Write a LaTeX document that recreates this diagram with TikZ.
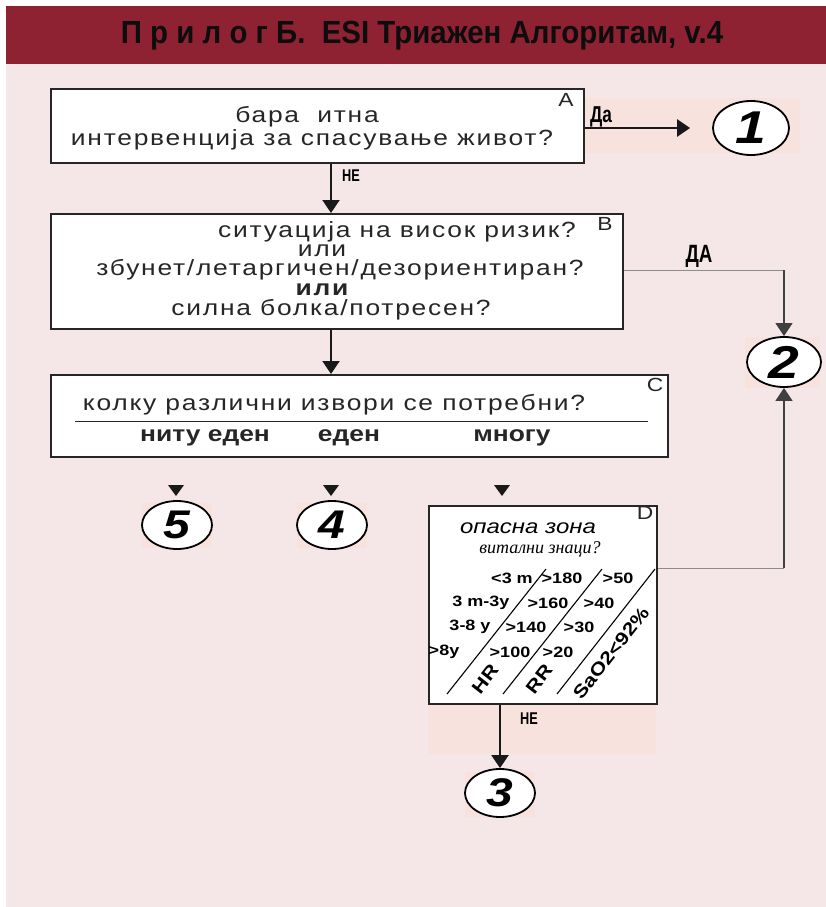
\documentclass[tikz,border=0pt]{standalone}
\usepackage{fontspec}
\setmainfont[FakeStretch=1.2]{Liberation Sans}
\newfontfamily\bodyfont[FakeStretch=1.2,LetterSpace=8]{Liberation Sans}
\newfontfamily\condfont[FakeStretch=0.75]{Liberation Sans}
\newfontfamily\titlefont[FakeStretch=0.92]{Liberation Sans}
\newfontfamily\serifit{Liberation Serif}
\usetikzlibrary{arrows.meta,shapes.geometric}
\definecolor{bg}{HTML}{F5E6E7}
\definecolor{band}{HTML}{8E2233}
\definecolor{peach}{HTML}{F8E2DE}
\tikzset{
  box/.style={draw=black!85, line width=2pt, fill=white, anchor=north west, inner sep=0pt},
  txt/.style={font=\bodyfont\fontsize{22}{22}\selectfont, text=black!85, inner sep=0pt},
  opt/.style={font=\bfseries\fontsize{22}{22}\selectfont, text=black!85, inner sep=0pt},
  lbl/.style={font=\fontsize{19}{19}\selectfont, text=black!85, inner sep=0pt},
  yn/.style={font=\condfont\bfseries\fontsize{20}{20}\selectfont, inner sep=0pt},
  circ/.style={ellipse, draw=black, line width=1.8pt, fill=white, inner sep=0pt,
               font=\bfseries\itshape\fontsize{46}{46}\selectfont},
  smallcirc/.style={circ, font=\bfseries\itshape\fontsize{40}{40}\selectfont},
  arr/.style={-{Triangle[width=17pt,length=13pt]}, line width=2pt, black!90},
  thinarr/.style={-{Triangle[width=17pt,length=13pt]}, line width=1.1pt, black!75},
  tab/.style={font=\bfseries\fontsize{15}{15}\selectfont, inner sep=0pt},
  rot/.style={font=\bfseries\fontsize{18}{18}\selectfont, inner sep=0pt, rotate=52},
  head/.style={fill=black!90},
}
\begin{document}
\begin{tikzpicture}[x=1pt,y=-1pt]
\useasboundingbox (0,0) rectangle (826,907);
\fill[white] (0,0) rectangle (826,907);
\fill[bg] (6,6) rectangle (826,907);
\fill[band] (6,6) rectangle (826,64);
\node[font=\titlefont\bfseries\fontsize{32}{32}\selectfont, text=black!95, inner sep=0pt] (title) at (422,36)
  {П р и л о г Б.\ \ ESI Триажен Алгоритам, v.4};

% peach highlight rectangles
\fill[peach] (583,98) rectangle (800,153);
\fill[peach] (745,337) rectangle (820,388);
\fill[peach] (142,503) rectangle (212,548);
\fill[peach] (297,503) rectangle (367,548);
\fill[peach] (428,703) rectangle (656,754);
\fill[peach] (465,772) rectangle (535,817);

\coordinate (ax) at (331,0);
\coordinate (dx) at (500,0);
\coordinate (rx) at (784,0);

% Box A
\node[box, minimum width=533pt, minimum height=74pt] (A) at (50,88) {};
\node[lbl] (Al) at (566,100) {А};
\node[txt] (A1) at (307,117) {бара \ итна};
\node[txt] (A2) at (312,140) {интервенција за спасување живот?};

% circle 1
\node[circ, minimum width=76pt, minimum height=54pt] (c1) at (751,128) {1};
\draw[arr, line width=2.6pt] (A.east |- c1) -- ([xshift=-22pt]c1.west);
\node[yn, font=\condfont\bfseries\fontsize{23}{23}\selectfont, anchor=south west] (da1) at (590,127) {Да};

% Box B
\node[box, minimum width=572pt, minimum height=115pt] (B) at (50,213) {};
\node[lbl] (Bl) at (605,224) {В};
\node[txt] (B1) at (397,232) {ситуација на висок ризик?};
\node[txt] (B2) at (322,251) {или};
\node[txt] (B3) at (340,270) {збунет/летаргичен/дезориентиран?};
\node[txt, font=\bodyfont\bfseries\fontsize{22}{22}\selectfont] (B4) at (322,290) {или};
\node[txt] (B5) at (331,310) {силна болка/потресен?};

\draw[arr] (A.south -| ax) -- (B.north -| ax);
\node[yn, font=\condfont\bfseries\fontsize{17}{17}\selectfont, anchor=west] (ne1) at (342,176) {НЕ};

% circle 2
\node[circ, minimum width=74pt, minimum height=50pt] (c2) at (784,362) {2};
\coordinate (bdy) at (0,270);
\draw[black!45, line width=0.8pt] (B.east |- bdy) -- (rx |- bdy);
\draw[thinarr] (rx |- bdy) -- (c2.north);
\node[yn, font=\condfont\bfseries\fontsize{25}{25}\selectfont] (da2) at (699,256) {ДА};

% Box C
\draw[arr] (B.south -| ax) -- (331,374);
\node[box, minimum width=617pt, minimum height=82pt] (C) at (50,374) {};
\node[lbl] (Cl) at (655,385) {С};
\node[txt] (C1) at (334,405) {колку различни извори се потребни?};
\draw[black!85, line width=1pt] (75,421) -- (648,421);
\node[opt] (o1) at (205,438) {ниту еден};
\node[opt] (o2) at (349,438) {еден};
\node[opt] (o3) at (512,438) {многу};

% floating arrowheads
\coordinate (h5) at (176,496);
\coordinate (h4) at (331,496);
\coordinate (h3) at (502,496);
\foreach \h in {h5,h4,h3}{
  \fill[head] (\h) ++(-8,-11) -- ++(16,0) -- ++(-8,11) -- cycle;
}

% circles 5 and 4
\node[smallcirc, minimum width=70pt, minimum height=48pt] (c5) at (177,525) {5};
\node[smallcirc, minimum width=70pt, minimum height=48pt] (c4) at (332,525) {4};

% Box D
\node[box, minimum width=228pt, minimum height=198pt] (D) at (428,505) {};
\node[lbl] (Dl) at (645,513) {D};
\node[font=\itshape\fontsize{20}{20}\selectfont, inner sep=0pt] (D1) at (528,528) {опасна зона};
\node[font=\serifit\itshape\fontsize{18}{18}\selectfont, inner sep=0pt] (D2) at (540,549) {витални знаци?};

\node[tab] (t11) at (512,578) {<3 m};
\node[tab] (t12) at (562,578) {>180};
\node[tab] (t13) at (618,578) {>50};
\node[tab] (t21) at (481,603) {3 m-3y};
\node[tab] (t22) at (548,603) {>160};
\node[tab] (t23) at (599,603) {>40};
\node[tab] (t31) at (470,627) {3-8 y};
\node[tab] (t32) at (526,627) {>140};
\node[tab] (t33) at (579,627) {>30};
\node[tab] (t41) at (444,652) {>8y};
\node[tab] (t42) at (510,652) {>100};
\node[tab] (t43) at (558,652) {>20};

\draw[line width=1.1pt] (447,694) -- (546,569);
\draw[line width=1.1pt] (503,694) -- (602,569);
\draw[line width=1.1pt] (557,694) -- (655,569);
\node[rot] (hr) at (485,679) {HR};
\node[rot] (rr) at (539,679) {RR};
\node[rot] (sa) at (611,653) {SaO2<92\%};

% D -> 2
\coordinate (dy) at (0,568);
\draw[black!45, line width=0.8pt] (D.east |- dy) -- (rx |- dy);
\draw[thinarr] (rx |- dy) -- (c2.south);

% D -> 3
\node[smallcirc, minimum width=70pt, minimum height=48pt] (c3) at (500,793) {3};
\draw[arr] (D.south -| dx) -- (c3.north);
\node[yn, font=\condfont\bfseries\fontsize{17}{17}\selectfont, anchor=west] (ne2) at (520,719) {НЕ};
\end{tikzpicture}
\end{document}
